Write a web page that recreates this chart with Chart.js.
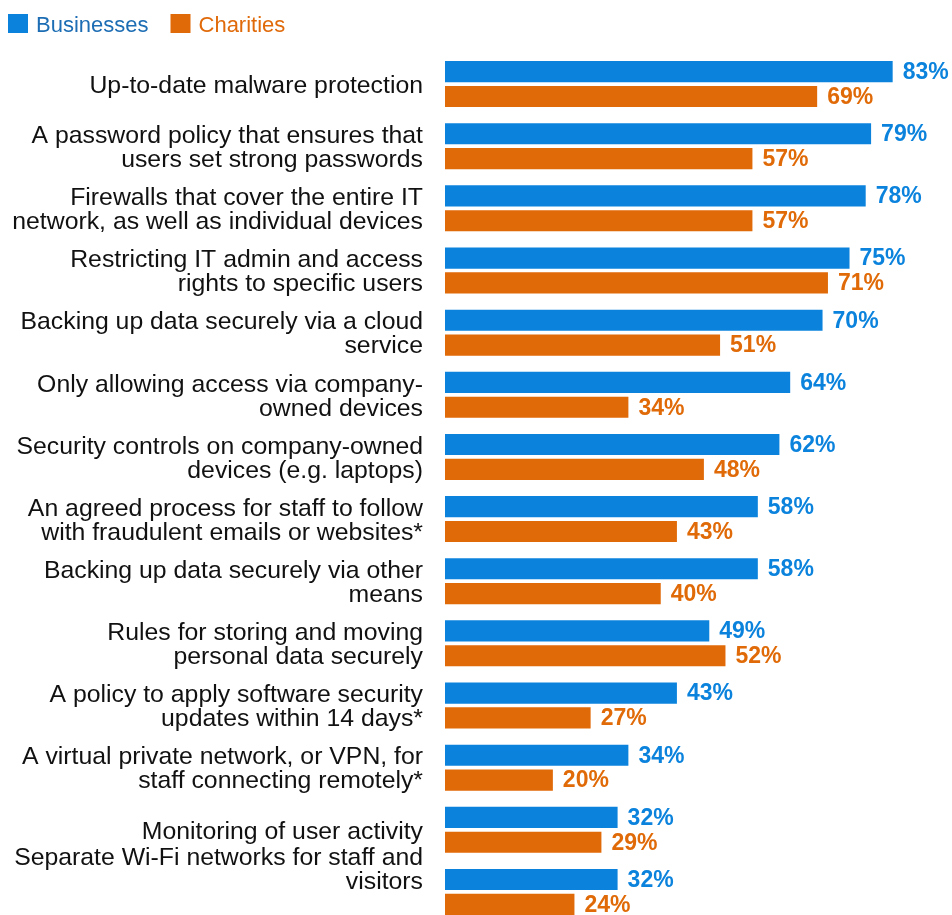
<!doctype html>
<html>
  <head>
    <script src="https://cdnjs.cloudflare.com/ajax/libs/Chart.js/4.4.1/chart.umd.min.js"></script>
    <style>
      html, body { margin: 0; padding: 0; background: #fff; overflow: hidden; }
      #wrap { width: 952px; height: 924px; position: relative; }
    </style>
    <script>
      // categories, top to bottom
      let categories = [
        "Up-to-date malware protection",
        ["A password policy that ensures that", "users set strong passwords"],
        ["Firewalls that cover the entire IT", "network, as well as individual devices"],
        ["Restricting IT admin and access", "rights to specific users"],
        ["Backing up data securely via a cloud", "service"],
        ["Only allowing access via company-", "owned devices"],
        ["Security controls on company-owned", "devices (e.g. laptops)"],
        ["An agreed process for staff to follow", "with fraudulent emails or websites*"],
        ["Backing up data securely via other", "means"],
        ["Rules for storing and moving", "personal data securely"],
        ["A policy to apply software security", "updates within 14 days*"],
        ["A virtual private network, or VPN, for", "staff connecting remotely*"],
        "Monitoring of user activity",
        ["Separate Wi-Fi networks for staff and", "visitors", "", ""]
      ];
      let businesses = [83, 79, 78, 75, 70, 64, 62, 58, 58, 49, 43, 34, 32, 32];
      let charities  = [69, 57, 57, 71, 51, 34, 48, 43, 40, 52, 27, 20, 29, 24];
      let seriesNames = ["Businesses", "Charities"];

      let blue = "#0b83dd";
      let orange = "#e06a07";
      let legendText = ["#1c6db4", "#e06a0a"];
      let fontFam = "'Liberation Sans', Arial, sans-serif";

      // percent labels at the end of each bar
      let valueLabels = {
        id: "valueLabels",
        afterDatasetsDraw(chart) {
          let ctx = chart.ctx;
          ctx.save();
          ctx.font = "bold 23px " + fontFam;
          ctx.textAlign = "left";
          ctx.textBaseline = "middle";
          chart.data.datasets.forEach(function(ds, i) {
            let meta = chart.getDatasetMeta(i);
            ctx.fillStyle = ds.backgroundColor;
            meta.data.forEach(function(bar, j) {
              ctx.fillText(ds.data[j] + "%", bar.x + 10, bar.y + 1);
            });
          });
          ctx.restore();
        }
      };

      // legend drawn top-left
      let topLegend = {
        id: "topLegend",
        afterDraw(chart) {
          let ctx = chart.ctx;
          ctx.save();
          ctx.font = "22px " + fontFam;
          ctx.textBaseline = "alphabetic";
          let x = 8;
          chart.data.datasets.forEach(function(ds, i) {
            ctx.fillStyle = ds.backgroundColor;
            ctx.fillRect(x, 14, 20, 19);
            ctx.fillStyle = legendText[i];
            ctx.fillText(ds.label, x + 28, 32);
            x = x + 28 + ctx.measureText(ds.label).width + 22;
          });
          ctx.restore();
        }
      };

      function startPage() {
        new Chart(document.getElementById("c1"), {
          type: "bar",
          data: {
            labels: categories,
            datasets: [
              { label: seriesNames[0], data: businesses, backgroundColor: blue },
              { label: seriesNames[1], data: charities, backgroundColor: orange }
            ]
          },
          options: {
            indexAxis: "y",
            responsive: true,
            maintainAspectRatio: false,
            animation: false,
            layout: { padding: { top: 53, bottom: 1, left: 0, right: 0 } },
            datasets: { bar: { categoryPercentage: 0.8, barPercentage: 0.85 } },
            plugins: { legend: { display: false }, tooltip: { enabled: false } },
            scales: {
              x: { display: false, min: 0, max: 94 },
              y: {
                grid: { display: false, drawTicks: false },
                border: { display: false },
                ticks: {
                  autoSkip: false,
                  color: "#111",
                  padding: 22,
                  labelOffset: 2,
                  font: { family: fontFam, size: 24.8, lineHeight: "24px" }
                },
                afterFit(scale) {
                  scale.width = 445;
                  scale.paddingTop = 0;
                  scale.paddingBottom = 0;
                }
              }
            }
          },
          plugins: [valueLabels, topLegend]
        });
      }
    </script>
  </head>
  <body onload="startPage()">
    <div id="wrap"><canvas id="c1"></canvas></div>
  </body>
</html>
